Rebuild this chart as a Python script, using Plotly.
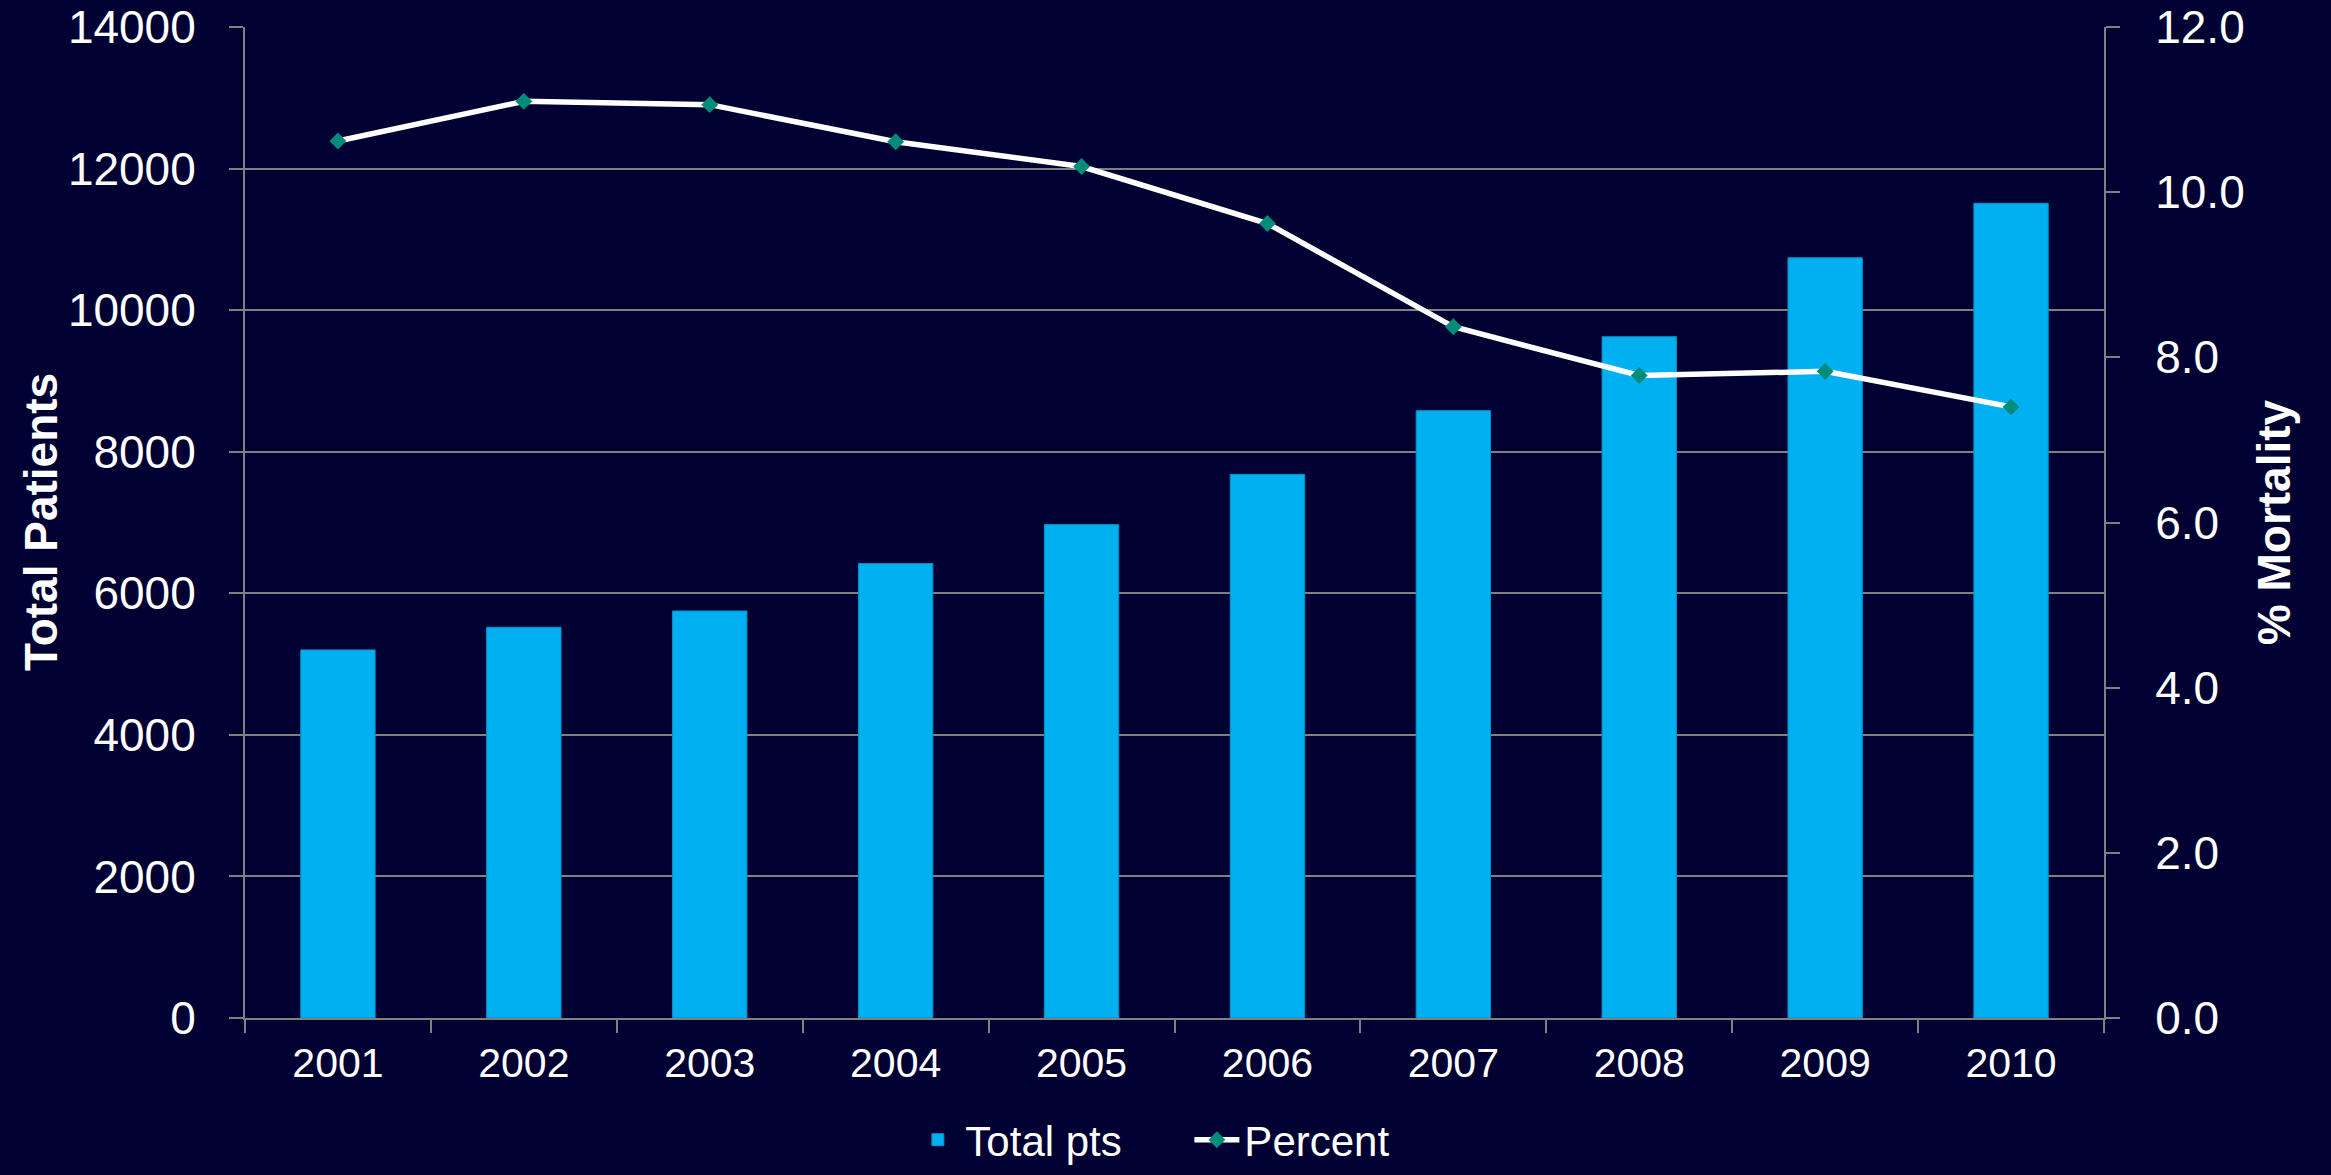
import plotly.graph_objects as go

years = ["2001", "2002", "2003", "2004", "2005", "2006", "2007", "2008", "2009", "2010"]
total_pts = [5200, 5520, 5750, 6420, 6970, 7680, 8580, 9625, 10740, 11510]
percent = [10.62, 11.10, 11.06, 10.61, 10.31, 9.62, 8.37, 7.78, 7.83, 7.40]

left_ticks = [0, 2000, 4000, 6000, 8000, 10000, 12000, 14000]
right_ticks = [0, 2, 4, 6, 8, 10, 12]

BG = "#000033"
GRID = "#808080"
FONT = "Liberation Sans, Arial, sans-serif"

fig = go.Figure()
fig.add_trace(go.Bar(
    x=years, y=total_pts, name="Total pts",
    marker=dict(color="#00B0F0", line=dict(color="#0A8FC8", width=1)),
    yaxis="y",
))
fig.add_trace(go.Scatter(
    x=years, y=percent, name="Percent", mode="lines+markers",
    line=dict(color="white", width=5.5),
    marker=dict(symbol="diamond", size=13, color="#008C7A"),
    yaxis="y2",
))

fig.update_layout(
    width=2331, height=1175,
    paper_bgcolor=BG, plot_bgcolor=BG,
    margin=dict(l=245, r=227, t=27, b=157, autoexpand=False),
    font=dict(family=FONT, color="white"),
    bargap=0.6,
    showlegend=True,
    legend=dict(
        orientation="h", x=0.508, xanchor="center", y=-0.123, yanchor="middle",
        font=dict(size=42, color="white"), bgcolor="rgba(0,0,0,0)",
        itemwidth=45, tracegroupgap=0, entrywidth=219, entrywidthmode="pixels",
    ),
    xaxis=dict(
        type="category", range=[-0.5, 9.5], tickson="boundaries", ticks="outside", ticklen=13,
        tickcolor=GRID, tickwidth=2, showline=True, linecolor=GRID, linewidth=2,
        showgrid=False, tickfont=dict(size=41, color="white"),
        ticklabelstandoff=8, automargin=False,
    ),
    yaxis=dict(
        range=[0, 14000], tickvals=left_ticks, ticktext=[str(v) for v in left_ticks],
        showgrid=True, gridcolor=GRID, gridwidth=2,
        showline=True, linecolor=GRID, linewidth=2,
        ticks="outside", ticklen=14, tickcolor=GRID, tickwidth=2,
        tickfont=dict(size=46, color="white"), ticklabelstandoff=24,
        zeroline=False, automargin=False,
    ),
    yaxis2=dict(
        range=[0, 12], tickvals=right_ticks, ticktext=[f"{v:.1f}" for v in right_ticks],
        overlaying="y", side="right", showgrid=False,
        showline=True, linecolor=GRID, linewidth=2,
        ticks="outside", ticklen=14, tickcolor=GRID, tickwidth=2,
        tickfont=dict(size=46, color="white"), ticklabelstandoff=26,
        zeroline=False, automargin=False,
        title=dict(text="<b>% Mortality</b>", font=dict(size=46, color="white"), standoff=14),
    ),
    annotations=[dict(
        text="<b>Total Patients</b>", textangle=-90, xref="paper", yref="paper",
        x=-0.110, y=0.5, xanchor="center", yanchor="middle", showarrow=False,
        font=dict(size=46, color="white", family=FONT),
    )],
)

fig.write_html("out.html")
